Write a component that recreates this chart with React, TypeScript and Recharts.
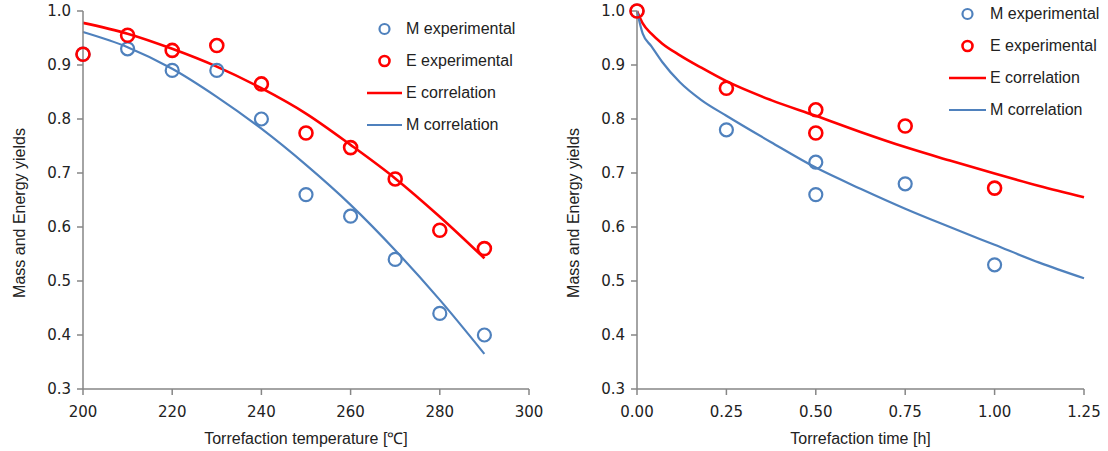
import {
  ComposedChart,
  Line,
  Scatter,
  XAxis,
  YAxis,
} from "recharts";

const FONT = '"Liberation Sans", Arial, sans-serif';
const TICK_FONT = '"DejaVu Sans", sans-serif';
const BLUE = "#4f81bd";
const RED = "#ff0000";
const AXIS = "#868686";

// left panel: temperature series
const tempX = [200, 210, 220, 230, 240, 250, 260, 270, 280, 290];
const mExpTemp = [0.92, 0.93, 0.89, 0.89, 0.8, 0.66, 0.62, 0.54, 0.44, 0.4];
const eExpTemp = [0.92, 0.955, 0.927, 0.936, 0.865, 0.774, 0.747, 0.689, 0.594, 0.56];
const eCorrTemp = [0.978, 0.958, 0.93, 0.897, 0.857, 0.81, 0.752, 0.69, 0.619, 0.542];
const mCorrTemp = [0.961, 0.933, 0.893, 0.841, 0.782, 0.715, 0.641, 0.557, 0.465, 0.365];
const tempTicks = [200, 220, 240, 260, 280, 300];

// right panel: time series
const timeExpX = [0, 0.25, 0.5, 0.5, 0.75, 1.0];
const mExpTime = [1.0, 0.78, 0.72, 0.66, 0.68, 0.53];
const eExpTime = [1.0, 0.857, 0.817, 0.774, 0.787, 0.672];
const timeCorrX = [0, 0.016, 0.04, 0.07, 0.12, 0.18, 0.25, 0.375, 0.5, 0.625, 0.75, 0.875, 1.0, 1.125, 1.25];
const eCorrTime = [1.0, 0.977, 0.958, 0.94, 0.918, 0.895, 0.87, 0.835, 0.806, 0.776, 0.748, 0.723, 0.699, 0.676, 0.655];
const mCorrTime = [1.0, 0.958, 0.935, 0.906, 0.868, 0.835, 0.806, 0.757, 0.71, 0.671, 0.634, 0.6, 0.567, 0.534, 0.505];
const timeTicks = [0, 0.25, 0.5, 0.75, 1.0, 1.25];

const yTicks = [0.3, 0.4, 0.5, 0.6, 0.7, 0.8, 0.9, 1.0];

const toPoints = (xs: number[], ys: number[]) => xs.map((x, i) => ({ x, y: ys[i] }));

const Ring = (color: string) => (props: any) => (
  <circle
    cx={props.cx}
    cy={props.cy}
    r={6.5}
    fill="none"
    stroke={color}
    strokeWidth={color === RED ? 2.6 : 2.2}
  />
);

function LegendBox({ left, top, lineLeft }: { left: number; top: number; lineLeft: number }) {
  const rows = [
    { label: "M experimental", color: BLUE, kind: "dot" },
    { label: "E experimental", color: RED, kind: "dot" },
    { label: "E correlation", color: RED, kind: "line" },
    { label: "M correlation", color: BLUE, kind: "line" },
  ];
  return (
    <>
      {rows.map((r, i) => (
        <div
          key={r.label}
          style={{
            position: "absolute",
            left: lineLeft,
            top: top + i * 32 - 10,
            height: 20,
            display: "flex",
            alignItems: "center",
            fontFamily: FONT,
            fontSize: 16,
            color: "#222",
            whiteSpace: "nowrap",
          }}
        >
          <svg width={left - lineLeft} height={20}>
            {r.kind === "dot" ? (
              <circle
                cx={(left - lineLeft) / 2}
                cy={10}
                r={5}
                fill="none"
                stroke={r.color}
                strokeWidth={r.color === RED ? 2.6 : 2.2}
              />
            ) : (
              <line
                x1={0}
                x2={left - lineLeft}
                y1={10}
                y2={10}
                stroke={r.color}
                strokeWidth={r.color === RED ? 2.6 : 2.2}
              />
            )}
          </svg>
          <span style={{ marginLeft: 4 }}>{r.label}</span>
        </div>
      ))}
    </>
  );
}

function Panel({
  xTicks,
  xDomain,
  xLabel,
  xFormat,
  expM,
  expE,
  corrE,
  corrM,
  right,
}: {
  xTicks: number[];
  xDomain: [number, number];
  xLabel: string;
  xFormat: (v: number) => string;
  expM: { x: number; y: number }[];
  expE: { x: number; y: number }[];
  corrE: { x: number; y: number }[];
  corrM: { x: number; y: number }[];
  right: number;
}) {
  const tickStyle = { fontSize: 15, fill: "#222", fontFamily: TICK_FONT };
  return (
    <ComposedChart
      width={554}
      height={451}
      margin={{ top: 11, right, bottom: 0, left: 0 }}
    >
      <XAxis
        dataKey="x"
        type="number"
        domain={xDomain}
        ticks={xTicks}
        tickFormatter={xFormat}
        allowDuplicatedCategory={false}
        height={62}
        stroke={AXIS}
        strokeWidth={1.5}
        tick={tickStyle}
        tickSize={6}
        tickMargin={11}
        label={{
          value: xLabel,
          position: "insideBottom",
          offset: 7,
          style: { fontSize: 16, fill: "#222", fontFamily: FONT },
        }}
      />
      <YAxis
        type="number"
        domain={[0.3, 1.0]}
        ticks={yTicks}
        tickFormatter={(v: number) => v.toFixed(1)}
        width={83}
        stroke={AXIS}
        strokeWidth={1.5}
        tick={tickStyle}
        tickSize={6}
        tickMargin={6}
        label={{
          value: "Mass and Energy yields",
          angle: -90,
          position: "insideLeft",
          offset: 19,
          dy: 13,
          style: { fontSize: 16, fill: "#222", fontFamily: FONT, textAnchor: "middle" },
        }}
      />
      <Scatter data={expM} dataKey="y" shape={Ring(BLUE)} isAnimationActive={false} />
      <Scatter data={expE} dataKey="y" shape={Ring(RED)} isAnimationActive={false} />
      <Line
        data={corrE}
        dataKey="y"
        type="monotone"
        stroke={RED}
        strokeWidth={2.6}
        dot={false}
        activeDot={false}
        isAnimationActive={false}
      />
      <Line
        data={corrM}
        dataKey="y"
        type="monotone"
        stroke={BLUE}
        strokeWidth={2.2}
        dot={false}
        activeDot={false}
        isAnimationActive={false}
      />
    </ComposedChart>
  );
}

export default function App() {
  return (
    <div style={{ position: "absolute", left: 0, top: 0, width: 1108, height: 451, background: "#fff" }}>
      <div style={{ position: "absolute", left: 0, top: 0 }}>
        <Panel
          xTicks={tempTicks}
          xDomain={[200, 300]}
          xLabel="Torrefaction temperature [℃]"
          xFormat={(v) => String(v)}
          expM={toPoints(tempX, mExpTemp)}
          expE={toPoints(tempX, eExpTemp)}
          corrE={toPoints(tempX, eCorrTemp)}
          corrM={toPoints(tempX, mCorrTemp)}
          right={25}
        />
      </div>
      <div style={{ position: "absolute", left: 554, top: 0 }}>
        <Panel
          xTicks={timeTicks}
          xDomain={[0, 1.25]}
          xLabel="Torrefaction time [h]"
          xFormat={(v) => v.toFixed(2)}
          expM={toPoints(timeExpX, mExpTime)}
          expE={toPoints(timeExpX, eExpTime)}
          corrE={toPoints(timeCorrX, eCorrTime)}
          corrM={toPoints(timeCorrX, mCorrTime)}
          right={24}
        />
      </div>
      <LegendBox left={402} top={29} lineLeft={367} />
      <LegendBox left={986} top={14} lineLeft={949} />
    </div>
  );
}
